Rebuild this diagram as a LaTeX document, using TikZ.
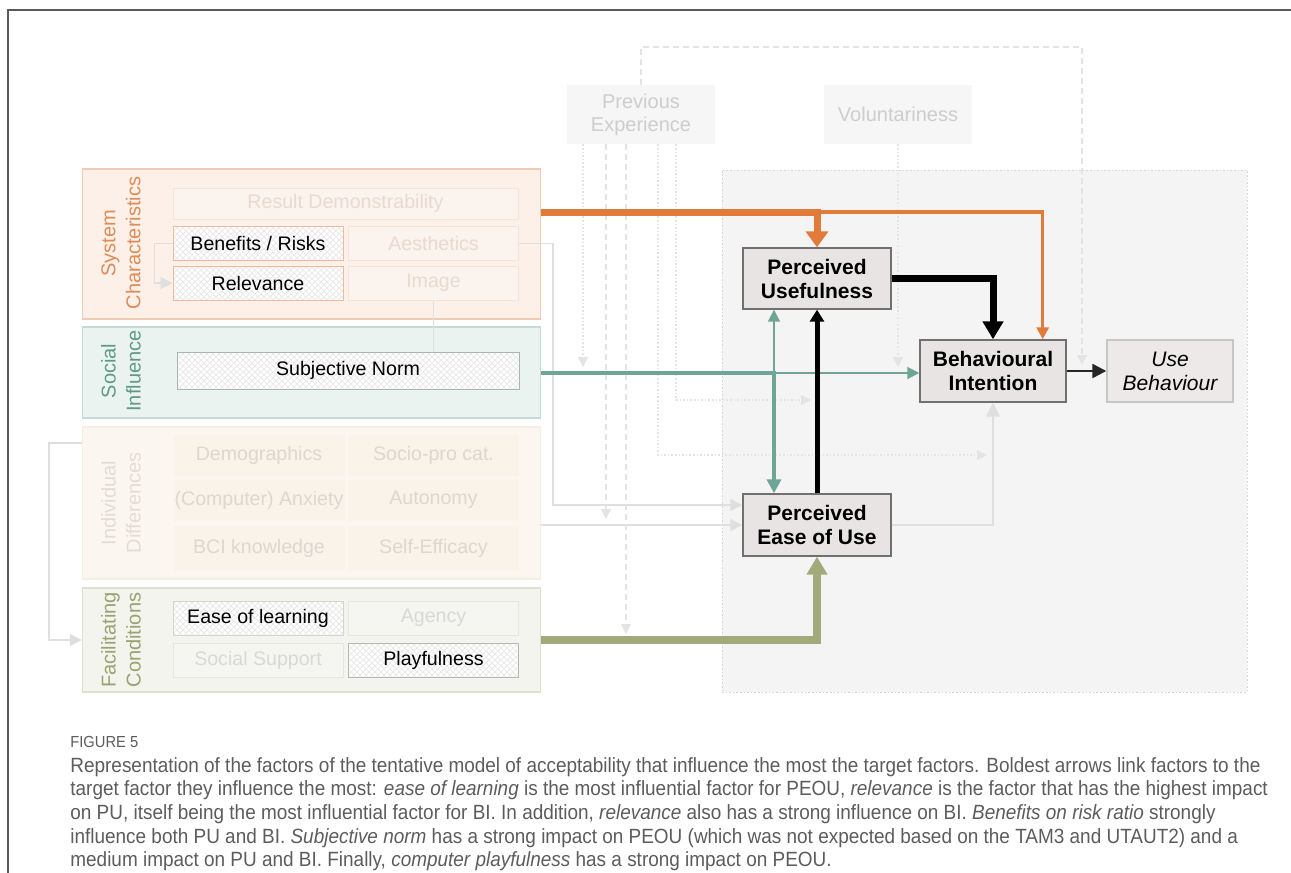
\documentclass[tikz,border=0pt]{standalone}
\usepackage{fontspec}
\setmainfont{Liberation Sans}
\newfontfamily\capfont[FakeStretch=0.92]{Liberation Sans}
\usetikzlibrary{arrows.meta,patterns}

\definecolor{framec}{HTML}{5A5A5A}
\definecolor{capc}{HTML}{5C5C5C}
\definecolor{orangec}{HTML}{E07B39}
\definecolor{tealc}{HTML}{6FA596}
\definecolor{olivec}{HTML}{A2AA7C}
\definecolor{faintc}{HTML}{DFDFDF}
\definecolor{modc}{HTML}{E4E4E4}
\definecolor{hatchc}{HTML}{EAEAEA}
\definecolor{areaf}{HTML}{F4F4F4}
\definecolor{aread}{HTML}{D6D6D6}
\definecolor{targetf}{HTML}{E8E4E4}
\definecolor{targetd}{HTML}{707070}
\definecolor{sysf}{HTML}{FCF0E8}
\definecolor{sysd}{HTML}{F0CBB2}
\definecolor{syst}{HTML}{E08C58}
\definecolor{sysif}{HTML}{FBF3EE}
\definecolor{sysid}{HTML}{F3E3D8}
\definecolor{sysit}{HTML}{E8DAD0}
\definecolor{socf}{HTML}{EBF3F0}
\definecolor{socd}{HTML}{C4DAD3}
\definecolor{soct}{HTML}{5F9A89}
\definecolor{indf}{HTML}{FBF7F0}
\definecolor{indd}{HTML}{F5EEE3}
\definecolor{indt}{HTML}{E2DCD4}
\definecolor{indif}{HTML}{F9F3EA}
\definecolor{indit}{HTML}{DED7CF}
\definecolor{facf}{HTML}{F3F4EE}
\definecolor{facd}{HTML}{DCE0CF}
\definecolor{fact}{HTML}{98A36F}
\definecolor{facif}{HTML}{F5F5F2}
\definecolor{facid}{HTML}{E6E6E0}
\definecolor{facit}{HTML}{D8D8D4}
\definecolor{outf}{HTML}{F6F6F6}
\definecolor{outt}{HTML}{CDCDCD}

\begin{document}
\begin{tikzpicture}[x=0.5pt,y=-0.5pt,
  panel/.style={draw, line width=0.7pt, minimum width=229pt, inner sep=0pt},
  paneltitle/.style={rotate=90, align=center, font=\fontsize{10}{12.5}\selectfont},
  item/.style={draw, line width=0.5pt, minimum width=85pt, minimum height=17pt, inner sep=0pt,
    font=\fontsize{9.8}{11.5}\selectfont},
  hatched/.style={item, text=black, preaction={fill=white},
    preaction={pattern=north east lines, pattern color=hatchc},
    pattern=north west lines, pattern color=hatchc},
  sysitem/.style={item, fill=sysif, draw=sysid, text=sysit},
  inditem/.style={item, fill=indif, draw=indif, text=indit, minimum height=20pt},
  facitem/.style={item, fill=facif, draw=facid, text=facit},
  target/.style={draw=targetd, fill=targetf, line width=0.7pt, minimum width=74pt, minimum height=30.5pt,
    inner sep=0pt, align=center, font=\bfseries\fontsize{10.5}{12}\selectfont},
  outer/.style={fill=outf, minimum width=74pt, minimum height=29.5pt, inner sep=0pt, align=center,
    text=outt, font=\fontsize{10}{11.5}\selectfont},
  faint/.style={faintc, line width=0.7pt},
  modline/.style={modc, line width=0.8pt, shorten >=3pt, -{Triangle[width=5pt,length=5pt]}},
  dotline/.style={dash pattern=on 0.8pt off 1pt},
  dashline/.style={dash pattern=on 3pt off 2pt}
  ]
\useasboundingbox (0,0) rectangle (1291,873);

% frame
\draw[framec, line width=0.8pt] (8,873) -- (8,10) -- (1291,10);

% target area and moderators
\node[fill=areaf, draw=aread, line width=0.4pt, dotline, minimum width=262.5pt, minimum height=261pt] (area) at (984.5,431) {};
\node[outer] (pe) at (641,114.5) {Previous\\Experience};
\node[outer] (vol) at (898,114.5) {Voluntariness};

% factor panels
\node[panel, fill=sysf, draw=sysd, minimum height=75pt] (syschar) at (311.5,244) {};
\node[paneltitle, text=syst] (systitle) at (121,243) {System\\Characteristics};
\node[sysitem, minimum width=172.5pt, minimum height=15.5pt] (resdemo) at (345.5,203.5) {Result Demonstrability};
\node[hatched, draw=sysd!80!orangec] (benefits) at (258,243.5) {Benefits / Risks};
\node[sysitem] (aesth) at (433.5,243.5) {Aesthetics};
\node[hatched, draw=sysd!80!orangec] (relev) at (258,283) {Relevance};
\node[sysitem] (image) at (433.5,283) {Image};

\node[panel, fill=socf, draw=socd, minimum height=45.5pt] (social) at (311.5,372.5) {};
\node[paneltitle, text=soct] (soctitle) at (121,371) {Social\\Influence};
\node[hatched, draw=socd!60!gray, minimum width=171pt, minimum height=18.5pt] (subnorm) at (348,370.5) {Subjective Norm};

\node[panel, fill=indf, draw=indd, minimum height=76pt] (indiv) at (311.5,503) {};
\node[paneltitle, text=indt] (indtitle) at (121,503) {Individual\\Differences};
\node[inditem] (demo) at (259,455) {Demographics};
\node[inditem] (socio) at (433.5,455) {Socio-pro cat.};
\node[inditem] (anx) at (259,500) {(Computer) Anxiety};
\node[inditem] (autonomy) at (433.5,500) {Autonomy};
\node[inditem, minimum height=22pt] (bci) at (259,548.5) {BCI knowledge};
\node[inditem, minimum height=22pt] (selfeff) at (433.5,548.5) {Self-Efficacy};

\node[panel, fill=facf, draw=facd, minimum height=52pt] (facil) at (311.5,640) {};
\node[paneltitle, text=fact] (factitle) at (121,640) {Facilitating\\Conditions};
\node[hatched, draw=facd!90!gray] (ease) at (258,618) {Ease of learning};
\node[facitem] (agency) at (433.5,618) {Agency};
\node[facitem] (socsup) at (258,660) {Social Support};
\node[hatched, draw=facd!60!gray] (play) at (433.5,660) {Playfulness};

% target factors
\node[target] (pu) at (817,278.5) {Perceived\\Usefulness};
\node[target, minimum height=31pt] (peou) at (817,525) {Perceived\\Ease of Use};
\node[target, minimum width=73pt, minimum height=31pt] (bi) at (993,371) {Behavioural\\Intention};
\node[target, draw=targetd!40, fill=targetf!80, minimum width=63pt, minimum height=31pt,
  font=\itshape\fontsize{10.5}{12}\selectfont] (ub) at (1170,371) {Use\\Behaviour};

\coordinate (oj) at (817,212);
\coordinate (tj) at (774,373);
\coordinate (ab) at (553,505);
\coordinate (il) at (49,443);

% faint links
\draw[faint, -{Triangle[width=6pt,length=6pt]}] (benefits.west) -- ++(-18,0) |- (relev.west);
\draw[faint] (image.south |- subnorm.north) -- (image.south);
\draw[faint, -{Triangle[width=6pt,length=6pt]}] (indiv.west |- il) -- (il) |- (facil.west);
\draw[faint, -{Triangle[width=6pt,length=6pt]}] (aesth.east) -| (ab) -- (ab -| peou.west);
\draw[faint, -{Triangle[width=6pt,length=6pt]}] (indiv.east |- peou.west) -- (peou.west);
\draw[faint, -{Triangle[width=7pt,length=7pt]}] (peou.east) -| (bi.south);

% moderators
\coordinate (pe1) at ([xshift=-29pt]pe.south);
\coordinate (pe2) at ([xshift=-17.5pt]pe.south);
\coordinate (pe3) at ([xshift=-7.5pt]pe.south);
\coordinate (pe4) at ([xshift=8.5pt]pe.south);
\coordinate (pe5) at ([xshift=17.5pt]pe.south);
\coordinate (vo1) at (vol.south);
\coordinate (m4) at (658,455);
\coordinate (m5) at (676,400);
\coordinate (m6) at (1082,47);
\draw[modline, dotline] (pe1) -- (pe1 |- tj);
\draw[modline, dashline] (pe2) -- (pe2 |- peou.west);
\draw[modline, dashline] (pe3) -- (pe3 |- facil.east);
\draw[modline, dotline] (pe4) -- (m4) -- (m4 -| bi.south);
\draw[modline, dotline] (pe5) -- (m5) -- (m5 -| peou.north);
\draw[modline, dashline] (pe.north) |- (m6) -- (m6 |- ub.west);
\draw[modline, dotline] (vo1) -- (vo1 |- tj);

% main links
\draw[orangec, line width=1.6pt, -{Triangle[width=6pt,length=6pt]}] (oj) -| ([xshift=-12pt]bi.north east);
\draw[orangec, line width=3.5pt, -{Triangle[width=11pt,length=8pt]}] (syschar.east |- oj) -| (pu.north);
\draw[tealc, line width=0.9pt, -{Triangle[width=6pt,length=6pt]}] (tj) -- (tj |- pu.south);
\draw[tealc, line width=0.9pt, -{Triangle[width=6pt,length=6pt]}] (tj) -- (bi.west |- tj);
\draw[tealc, line width=2.2pt, -{Triangle[width=7pt,length=7pt]}] (social.east |- tj) -| (tj |- peou.north);
\draw[black, line width=3.5pt, -{Triangle[width=10pt,length=9pt]}] (pu.east) -| (bi.north);
\draw[black, line width=2.5pt, -{Triangle[width=7pt,length=6pt]}] (peou.north) -- (pu.south);
\draw[olivec, line width=3.8pt, -{Triangle[width=10pt,length=9pt]}] (facil.east) -| (peou.south);
\draw[black!85, line width=1.2pt, -{Triangle[width=7pt,length=7pt]}] (bi) -- (ub);

% caption
\node[anchor=base west, inner sep=0pt, text=capc, font=\capfont\fontsize{8}{9}\selectfont] (figlabel) at (70,747) {FIGURE 5};
\node[anchor=north west, inner sep=0pt, align=left, text=capc, font=\capfont\fontsize{10.3}{11.8}\selectfont] (caption) at (70,757)
{Representation of the factors of the tentative model of acceptability that influence the most the target factors. Boldest arrows link factors to the\\
target factor they influence the most: \textit{ease of learning} is the most influential factor for PEOU, \textit{relevance} is the factor that has the highest impact\\
on PU, itself being the most influential factor for BI. In addition, \textit{relevance} also has a strong influence on BI. \textit{Benefits on risk ratio} strongly\\
influence both PU and BI. \textit{Subjective norm} has a strong impact on PEOU (which was not expected based on the TAM3 and UTAUT2) and a\\
medium impact on PU and BI. Finally, \textit{computer playfulness} has a strong impact on PEOU.};
\end{tikzpicture}
\end{document}
